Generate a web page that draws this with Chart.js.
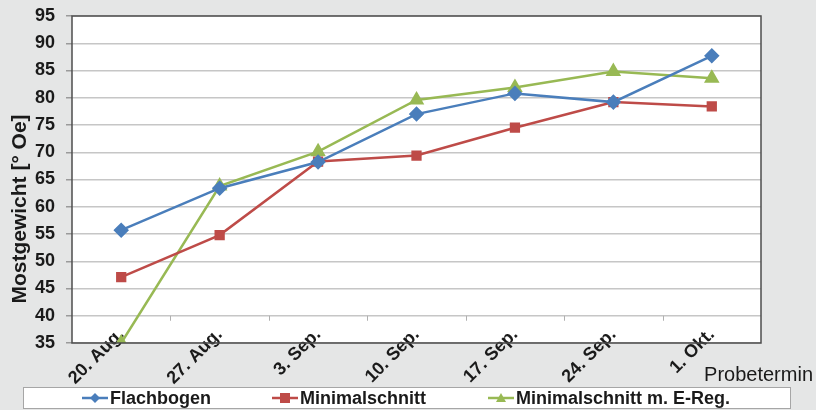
<!DOCTYPE html>
<html>
<head>
<meta charset="utf-8">
<script src="https://cdn.jsdelivr.net/npm/chart.js@4"></script>
<style>
  body { margin: 0; background: #e5e6e6; }
  #wrap { width: 816px; height: 410px; }
</style>
</head>
<body>
<div id="wrap"><canvas id="chart" width="816" height="410"></canvas></div>
<script>
const labels = ['20. Aug.', '27. Aug.', '3. Sep.', '10. Sep.', '17. Sep.', '24. Sep.', '1. Okt.']
const flachbogen = [55.7, 63.4, 68.2, 77.0, 80.8, 79.2, 87.7]
const minimalschnitt = [47.1, 54.8, 68.3, 69.4, 74.5, 79.2, 78.4]
const minimalschnittEReg = [35.0, 63.8, 70.1, 79.6, 81.9, 84.8, 83.6]

const FONT = '"Liberation Sans", Arial, sans-serif'

// legend box, axis titles drawn by hand, Excel style
const excelLegend = {
  id: 'excelLegend',
  beforeDraw(chart) {
    const { ctx, chartArea } = chart
    ctx.save()
    ctx.fillStyle = '#ffffff'
    ctx.fillRect(chartArea.left, chartArea.top, chartArea.right - chartArea.left, chartArea.bottom - chartArea.top)
    ctx.restore()
  },
  afterDraw(chart) {
    const { ctx, chartArea } = chart
    const xs = chart.scales.x
    const ys = chart.scales.y
    ctx.save()
    // small category ticks, hanging under the 40 line like in the original
    const step = xs.getPixelForTick(1) - xs.getPixelForTick(0)
    const y40 = ys.getPixelForValue(40)
    ctx.strokeStyle = '#b0b0b0'
    ctx.lineWidth = 1
    for (let i = 1; i < labels.length; i++) {
      const px = Math.round(xs.getPixelForTick(i) - step / 2) + 0.5
      ctx.beginPath()
      ctx.moveTo(px, y40)
      ctx.lineTo(px, y40 + 5)
      ctx.stroke()
    }

    // plot border
    ctx.strokeStyle = '#4d4d4d'
    ctx.lineWidth = 1.5
    ctx.strokeRect(chartArea.left, chartArea.top, chartArea.right - chartArea.left, chartArea.bottom - chartArea.top)

    // y axis title (sits a bit low in the original)
    ctx.save()
    ctx.translate(20, 209)
    ctx.rotate(-Math.PI / 2)
    ctx.fillStyle = '#1a1a1a'
    ctx.font = 'bold 21px ' + FONT
    ctx.textAlign = 'center'
    ctx.textBaseline = 'middle'
    ctx.fillText('Mostgewicht [° Oe]', 0, 0)
    ctx.restore()

    // x axis title
    ctx.fillStyle = '#1a1a1a'
    ctx.font = '20px ' + FONT
    ctx.textAlign = 'right'
    ctx.textBaseline = 'middle'
    ctx.fillText('Probetermin', 813, 375)

    // legend box
    ctx.fillStyle = '#ffffff'
    ctx.fillRect(23, 387, 767, 22)
    ctx.strokeStyle = '#a6a6a6'
    ctx.lineWidth = 1
    ctx.strokeRect(23.5, 387.5, 767, 21)

    const starts = [82, 272, 488]
    chart.data.datasets.forEach((ds, i) => {
      const x = starts[i]
      const y = 398
      ctx.strokeStyle = ds.borderColor
      ctx.lineWidth = 2.5
      ctx.beginPath()
      ctx.moveTo(x, y)
      ctx.lineTo(x + 26, y)
      ctx.stroke()
      ctx.fillStyle = ds.backgroundColor
      const cx = x + 13
      ctx.beginPath()
      if (ds.pointStyle === 'rectRot') {
        ctx.moveTo(cx, y - 5); ctx.lineTo(cx + 5, y); ctx.lineTo(cx, y + 5); ctx.lineTo(cx - 5, y)
      } else if (ds.pointStyle === 'rect') {
        ctx.rect(cx - 5, y - 5, 10, 10)
      } else {
        ctx.moveTo(cx, y - 5); ctx.lineTo(cx + 5, y + 4); ctx.lineTo(cx - 5, y + 4)
      }
      ctx.closePath()
      ctx.fill()
      ctx.fillStyle = '#1a1a1a'
      ctx.font = 'bold 18px ' + FONT
      ctx.textAlign = 'left'
      ctx.fillText(ds.label, x + 28, y + 1)
    })
    ctx.restore()
  },
}

new Chart(document.getElementById('chart'), {
  type: 'line',
  data: {
    labels: labels,
    datasets: [
      {
        label: 'Flachbogen',
        data: flachbogen,
        borderColor: '#4a7ebb',
        backgroundColor: '#4a7ebb',
        pointStyle: 'rectRot',
        pointRadius: 6,
        borderWidth: 2.5,
      },
      {
        label: 'Minimalschnitt',
        data: minimalschnitt,
        borderColor: '#be4b48',
        backgroundColor: '#be4b48',
        pointStyle: 'rect',
        pointRadius: 5.5,
        borderWidth: 2.5,
      },
      {
        label: 'Minimalschnitt m. E-Reg.',
        data: minimalschnittEReg,
        borderColor: '#98b954',
        backgroundColor: '#98b954',
        pointStyle: 'triangle',
        pointRadius: 6.5,
        borderWidth: 2.5,
      },
    ],
  },
  options: {
    responsive: false,
    animation: false,
    layout: { padding: { top: 16, right: 55, left: 0, bottom: 0 } },
    plugins: {
      legend: { display: false },
      tooltip: { enabled: false },
    },
    scales: {
      x: {
        offset: true,
        grid: { display: false, drawTicks: false },
        border: { display: false },
        ticks: {
          minRotation: 45,
          maxRotation: 45,
          color: '#1a1a1a',
          padding: -19,
          font: { family: FONT, size: 18, weight: 'bold' },
        },
        afterFit(scale) {
          scale.height = 67
          // let the rotated labels overlap the axis line like Excel does
          scale._computeLabelArea = () => undefined
        },
      },
      y: {
        min: 35,
        max: 95,
        grid: { color: '#c6c6c6', lineWidth: 1.5, drawTicks: true, tickLength: 6, tickColor: '#9a9a9a' },
        border: { display: false },
        ticks: {
          stepSize: 5,
          color: '#1a1a1a',
          padding: 11,
          font: { family: FONT, size: 18, weight: 'bold' },
        },
        afterFit(scale) {
          scale.width = 72
          scale.paddingTop = 0
          scale.paddingBottom = 0
        },
      },
    },
  },
  plugins: [excelLegend],
})
</script>
</body>
</html>
